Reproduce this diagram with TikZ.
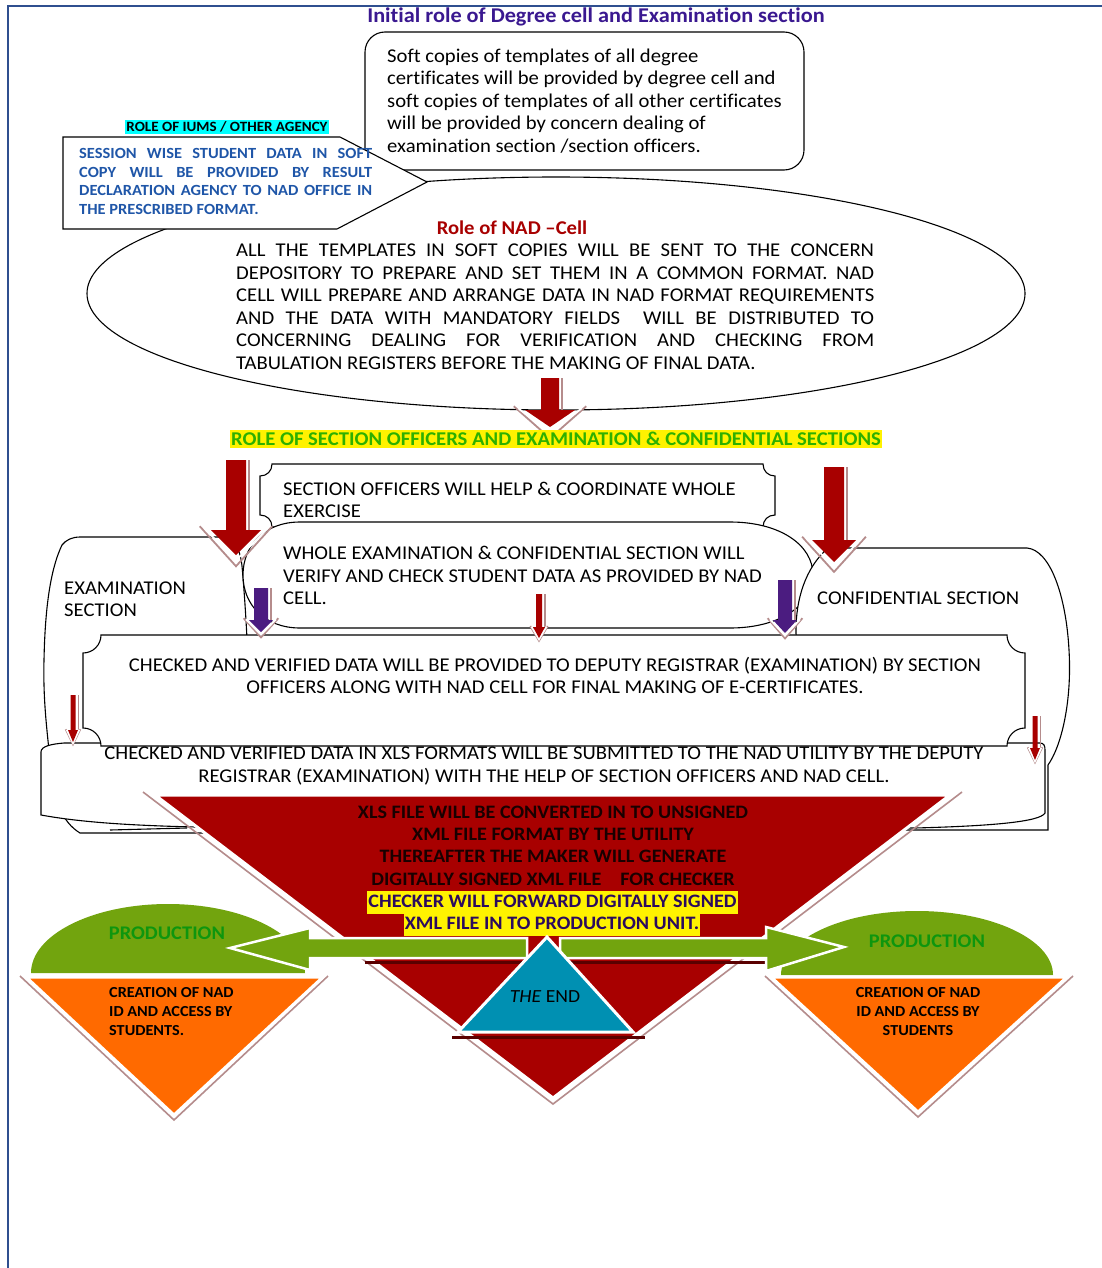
\documentclass[tikz,border=0pt]{standalone}
\usepackage{fontspec}
\setmainfont{Carlito}[FakeStretch=1.06, Ligatures=NoCommon]
\definecolor{nadred}{HTML}{A80000}
\definecolor{purp}{HTML}{4B1C80}
\definecolor{titlepurple}{HTML}{3A1890}
\definecolor{callblue}{HTML}{1F56A8}
\definecolor{hdrgreen}{HTML}{2EB000}
\definecolor{prodgreen}{HTML}{0E960E}
\definecolor{olive}{HTML}{72A40E}
\definecolor{orng}{HTML}{FF6A00}
\definecolor{teal}{HTML}{0090B2}
\definecolor{paleedge}{HTML}{B58C8C}
\definecolor{bordercol}{HTML}{2F4F8F}
\definecolor{darkstrip}{HTML}{5A0000}
\definecolor{hlpurple}{HTML}{2B0A5E}
\definecolor{hlcyan}{HTML}{00FFFF}
\newcommand{\jl}[2]{\makebox[#1][s]{#2}}
\newcommand{\darr}[7]{%
 \draw[paleedge, line width=1.3] ({#1+#5+3},{#2}) -- ({#1+#5+3},{#3});
 \draw[paleedge, line width=1.8] ({#1-1.45*#6},{#3-0.15*#6}) -- ({#1},{#4+0.45*#6}) -- ({#1+1.45*#6},{#3-0.15*#6});
 \draw[white, line width=1.8] ({#1-1.25*#6},{#3-0.05*#6}) -- ({#1},{#4+0.22*#6}) -- ({#1+1.25*#6},{#3-0.05*#6});
 \fill[#7] ({#1-#5},{#2}) -- ({#1+#5},{#2}) -- ({#1+#5},{#3}) -- ({#1+#6},{#3}) -- ({#1},{#4}) -- ({#1-#6},{#3}) -- ({#1-#5},{#3}) -- cycle;
}
\tikzset{
 boxline/.style={draw=black, line width=1.1pt, fill=white},
 body/.style={font=\fontsize{19.5}{22.5}\selectfont, inner sep=0pt, align=left},
 bodyc/.style={font=\fontsize{19.5}{22.5}\selectfont, inner sep=0pt, align=center},
 redtxt/.style={font=\bfseries\fontsize{19}{22.4}\selectfont, inner sep=0pt, align=center, text=black!90!red},
 hltxt/.style={font=\bfseries\fontsize{19}{22}\selectfont, fill=yellow, text=hlpurple, inner xsep=1pt, inner ysep=2.5pt, text height=14pt, text depth=4pt},
 orangetxt/.style={font=\bfseries\fontsize{15.3}{19}\selectfont, inner sep=0pt},
 prodtxt/.style={font=\bfseries\fontsize{19.3}{22}\selectfont, text=prodgreen, inner sep=0pt}
}
\begin{document}
\begin{tikzpicture}[x=1pt,y=-1pt]
\useasboundingbox (0,0) rectangle (1102,1268);
\fill[white] (0,0) rectangle (1102,1268);
% page border
\draw[bordercol, line width=1.3pt] (8,1268) -- (8,6) -- (1102,6);

% top: title, soft copies box
\node[font=\bfseries\fontsize{21}{24}\selectfont, text=titlepurple, inner sep=0pt] (title) at (596,17) {Initial role of Degree cell and Examination section};

% NAD ellipse
\draw[line width=1.1pt, fill=white] (556,293.5) ellipse [x radius=469pt, y radius=116.5pt];

\draw[boxline, rounded corners=20pt] (365,32) rectangle (804,170);
\node[body, anchor=west] (softtxt) at (387,101) {Soft copies of templates of all degree\\certificates will be provided by degree cell and\\soft copies of templates of all other certificates\\will be provided by concern dealing of\\examination section /section officers.};

% IUMS callout
\node[fill=hlcyan, font=\bfseries\fontsize{14.2}{16}\selectfont, inner xsep=1pt, inner ysep=1.5pt] (iums) at (227,127) {ROLE OF IUMS / OTHER AGENCY};
\draw[boxline] (63,137) -- (340,137) -- (427,182) -- (337,229) -- (63,229) -- cycle;
\node[font=\bfseries\fontsize{15.5}{18.5}\selectfont, text=callblue, inner sep=0pt, align=left, anchor=west] (calltxt) at (79,181.5) {\jl{293pt}{SESSION WISE STUDENT DATA IN SOFT}\\\jl{293pt}{COPY WILL BE PROVIDED BY RESULT}\\\jl{293pt}{DECLARATION AGENCY TO NAD OFFICE IN}\\THE PRESCRIBED FORMAT.};

% NAD cell text
\node[font=\bfseries\fontsize{19.5}{22}\selectfont, text=nadred, inner sep=0pt] (nadtitle) at (512,228) {Role of NAD –Cell};
\node[body, anchor=west] (nadtxt) at (236,306.5) {\jl{638pt}{ALL THE TEMPLATES IN SOFT COPIES WILL BE SENT TO THE CONCERN}\\\jl{638pt}{DEPOSITORY TO PREPARE AND SET THEM IN A COMMON FORMAT. NAD}\\\jl{638pt}{CELL WILL PREPARE AND ARRANGE DATA IN NAD FORMAT REQUIREMENTS}\\\jl{638pt}{AND THE DATA WITH MANDATORY FIELDS\ \ WILL BE DISTRIBUTED TO}\\\jl{638pt}{CONCERNING DEALING FOR VERIFICATION AND CHECKING FROM}\\TABULATION REGISTERS BEFORE THE MAKING OF FINAL DATA.};

\darr{550}{378}{410}{427}{9}{25}{nadred}

% green header
\node[fill=yellow, text=hdrgreen, font=\bfseries\fontsize{19.5}{22}\selectfont, inner xsep=1pt, inner ysep=2pt] (hdr) at (556,439) {ROLE OF SECTION OFFICERS AND EXAMINATION \& CONFIDENTIAL SECTIONS};

% examination section shape
\draw[boxline] (80,537) -- (220,537) .. controls (234,537) and (240,548) .. (242,566) .. controls (246,610) and (250,680) .. (250,760) -- (250,833) -- (80,833) .. controls (62,822) and (53,800) .. (50,760) .. controls (47,730) and (43,700) .. (44,660) .. controls (45,610) and (50,570) .. (62,545) .. controls (66,540) and (72,537) .. (80,537) -- cycle;
\draw[line width=1.1pt] (110,830) -- (187,828);

% section officers plaque
\draw[boxline] (272,464) -- (763,464) .. controls (763,471) and (768,476) .. (775,476) -- (775,515) .. controls (768,515) and (763,520) .. (763,527) -- (272,527) .. controls (272,520) and (267,515) .. (260,515) -- (260,476) .. controls (267,476) and (272,471) .. (272,464) -- cycle;
\node[body, anchor=west] (sotxt) at (283,500) {SECTION OFFICERS WILL HELP \& COORDINATE WHOLE\\EXERCISE};

% whole examination shape
\draw[boxline] (300,522) -- (730,522) .. controls (780,522) and (813,545) .. (813,575) .. controls (813,605) and (780,628) .. (730,628) -- (300,628) .. controls (265,628) and (243,605) .. (243,575) .. controls (243,545) and (265,522) .. (300,522) -- cycle;
\node[body, anchor=west] (wetxt) at (283,575.5) {WHOLE EXAMINATION \& CONFIDENTIAL SECTION WILL\\VERIFY AND CHECK STUDENT DATA AS PROVIDED BY NAD\\CELL.};

% confidential section shape
\draw[boxline] (828,548) -- (1027,548) .. controls (1050,550) and (1066,595) .. (1069,650) .. controls (1072,700) and (1062,745) .. (1048,765) -- (1048,830) -- (798,830) -- (796,630) .. controls (796,600) and (805,568) .. (828,548) -- cycle;

% XLS box
\draw[boxline] (41,752) .. controls (41,746) and (52,744) .. (64,743) -- (1040,743) .. controls (1044,743) and (1045,746) .. (1045,750) -- (1045,813) .. controls (1040,822) and (990,826) .. (915,828) -- (300,828) .. controls (160,828) and (90,824) .. (41,815) -- cycle;

% CHECKED plaque
\draw[boxline] (101,635) -- (1007,635) .. controls (1007,645) and (1015,653) .. (1025,653) -- (1025,728) .. controls (1015,728) and (1007,736) .. (1007,746) -- (101,746) .. controls (101,736) and (93,728) .. (83,728) -- (83,653) .. controls (93,653) and (101,645) .. (101,635) -- cycle;

\node[body, anchor=west] (extxt) at (64,599) {EXAMINATION\\SECTION};
\node[body, anchor=west] (cftxt) at (817,598) {CONFIDENTIAL SECTION};
\node[bodyc] (cktxt) at (555,675.5) {CHECKED AND VERIFIED DATA WILL BE PROVIDED TO DEPUTY REGISTRAR (EXAMINATION) BY SECTION\\OFFICERS ALONG WITH NAD CELL FOR FINAL MAKING OF E-CERTIFICATES.};
\node[bodyc] (xlstxt) at (544,766) {CHECKED AND VERIFIED DATA IN XLS FORMATS WILL BE SUBMITTED TO THE NAD UTILITY BY THE DEPUTY\\REGISTRAR (EXAMINATION) WITH THE HELP OF SECTION OFFICERS AND NAD CELL.};

% block arrows
\darr{236}{460}{530}{555}{10}{25}{nadred}
\darr{834}{467}{540}{562}{10}{22}{nadred}
\darr{261}{588}{620}{632}{7}{12}{purp}
\darr{785}{580}{620}{633}{7}{12}{purp}
\darr{539}{594}{627}{638}{3}{6}{nadred}
\darr{73}{695}{730}{742}{2.5}{5}{nadred}
\darr{1035}{716}{748}{760}{2.5}{5}{nadred}

% red inverted triangle
\draw[paleedge, line width=1.6pt] (143,792) -- (553,1104) -- (962,792);
\filldraw[fill=nadred, draw=white, line width=3pt] (155,795) -- (950,795) -- (553,1098) -- cycle;
\node[redtxt] (redtxt) at (553,845.5) {XLS FILE WILL BE CONVERTED IN TO UNSIGNED\\XML FILE FORMAT BY THE UTILITY\\THEREAFTER THE MAKER WILL GENERATE\\DIGITALLY SIGNED XML FILE\hspace{1em}FOR CHECKER};
\node[hltxt] (hl1) at (552.5,902) {CHECKER WILL FORWARD DIGITALLY SIGNED};
\node[hltxt] (hl2) at (552,924) {XML FILE IN TO PRODUCTION UNIT.};

% production: left
\fill[olive] (31,973) arc[start angle=180, end angle=0, x radius=137pt, y radius=69pt] -- cycle;
\draw[paleedge, line width=1.6pt] (20,976) -- (174,1120) -- (328,976);
\filldraw[fill=orng, draw=white, line width=3pt] (26,977) -- (323,977) -- (174,1115) -- cycle;
\node[prodtxt] (prod1) at (167,933) {PRODUCTION};
\node[orangetxt, align=left, anchor=west] (or1) at (109,1012) {CREATION OF NAD\\ID AND ACCESS BY\\STUDENTS.};

% production: right
\fill[olive] (781,975) arc[start angle=180, end angle=0, x radius=136pt, y radius=64pt] -- cycle;
\draw[paleedge, line width=1.6pt] (765,976) -- (918,1117) -- (1073,976);
\filldraw[fill=orng, draw=white, line width=3pt] (771,977) -- (1067,977) -- (918,1112) -- cycle;
\node[prodtxt] (prod2) at (927,941) {PRODUCTION};
\node[orangetxt, align=center] (or2) at (918,1012) {CREATION OF NAD\\ID AND ACCESS BY\\STUDENTS};

% green arrows
\draw[darkstrip, line width=3pt] (365,962) -- (765,962);
\filldraw[fill=olive, draw=white, line width=2.5pt] (527,938) -- (310,938) -- (310,928) -- (230,948) -- (310,970) -- (310,958) -- (527,958) -- cycle;
\filldraw[fill=olive, draw=white, line width=2.5pt] (560,938) -- (766,938) -- (766,927) -- (844,947) -- (766,971) -- (766,958) -- (560,958) -- cycle;

% THE END triangle
\draw[darkstrip, line width=3pt] (452,1037) -- (645,1037);
\filldraw[fill=teal, draw=white, line width=3pt] (547,937) -- (633,1032) -- (458,1032) -- cycle;
\node[font=\fontsize{18.5}{20}\selectfont, inner sep=0pt] (theend) at (545,997) {\textit{THE} END};
\end{tikzpicture}
\end{document}
